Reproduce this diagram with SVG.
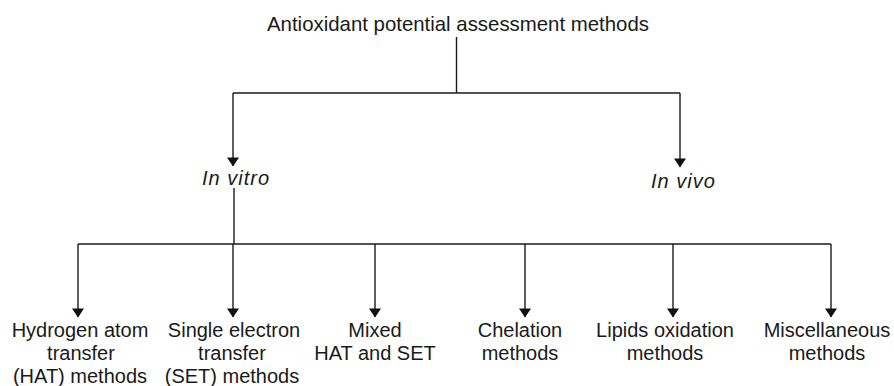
<svg xmlns="http://www.w3.org/2000/svg" width="894" height="386" viewBox="0 0 894 386">
  <style>
    .lbl { font-family: "Liberation Sans", Arial, sans-serif; font-size: 20px; fill: #1a1a1a; }
    .mid { text-anchor: middle; }
    .it { font-style: italic; letter-spacing: 1px; }
    .wire { stroke: #1a1a1a; stroke-width: 1.4; fill: none; }
  </style>
  <defs>
    <marker id="head" markerUnits="userSpaceOnUse" markerWidth="10" markerHeight="12" viewBox="0 -5 8 10" refX="7" refY="0" orient="auto">
      <path d="M0,-5 L7.5,0 L0,5 z" fill="#111"/>
    </marker>
  </defs>

  <rect width="894" height="386" fill="#ffffff"/>

  <!-- connectors -->
  <g id="connectors">
    <path class="wire" d="M456.5,37 V93"/>
    <path class="wire" d="M233,93 H680"/>
    <path class="wire" d="M233,93 V166" marker-end="url(#head)"/>
    <path class="wire" d="M680,93 V167" marker-end="url(#head)"/>
    <path class="wire" d="M234,188 V244"/>
    <path class="wire" d="M78,244 H831"/>
    <path class="wire" d="M78,244 V317" marker-end="url(#head)"/>
    <path class="wire" d="M233,244 V317" marker-end="url(#head)"/>
    <path class="wire" d="M375,244 V317" marker-end="url(#head)"/>
    <path class="wire" d="M525,244 V317" marker-end="url(#head)"/>
    <path class="wire" d="M673,244 V317" marker-end="url(#head)"/>
    <path class="wire" d="M831,244 V317" marker-end="url(#head)"/>
  </g>

  <!-- nodes -->
  <g id="root">
    <text class="lbl mid" x="458" y="31" style="font-size:20.4px">Antioxidant potential assessment methods</text>
  </g>
  <g id="in-vitro">
    <text class="lbl it" x="202" y="185">In vitro</text>
  </g>
  <g id="in-vivo">
    <text class="lbl it" x="651" y="188">In vivo</text>
  </g>
  <g id="hat">
    <text class="lbl mid" x="80" y="337">Hydrogen atom</text>
    <text class="lbl mid" x="81" y="360">transfer</text>
    <text class="lbl mid" x="80" y="383">(HAT) methods</text>
  </g>
  <g id="set">
    <text class="lbl mid" x="234" y="337">Single electron</text>
    <text class="lbl mid" x="232" y="360">transfer</text>
    <text class="lbl mid" x="232" y="383">(SET) methods</text>
  </g>
  <g id="mixed">
    <text class="lbl mid" x="375" y="337">Mixed</text>
    <text class="lbl mid" x="375" y="360">HAT and SET</text>
  </g>
  <g id="chelation">
    <text class="lbl mid" x="520" y="337">Chelation</text>
    <text class="lbl mid" x="520" y="360">methods</text>
  </g>
  <g id="lipids">
    <text class="lbl mid" x="665" y="337">Lipids oxidation</text>
    <text class="lbl mid" x="665" y="360">methods</text>
  </g>
  <g id="misc">
    <text class="lbl mid" x="827" y="337">Miscellaneous</text>
    <text class="lbl mid" x="827" y="360">methods</text>
  </g>
</svg>
